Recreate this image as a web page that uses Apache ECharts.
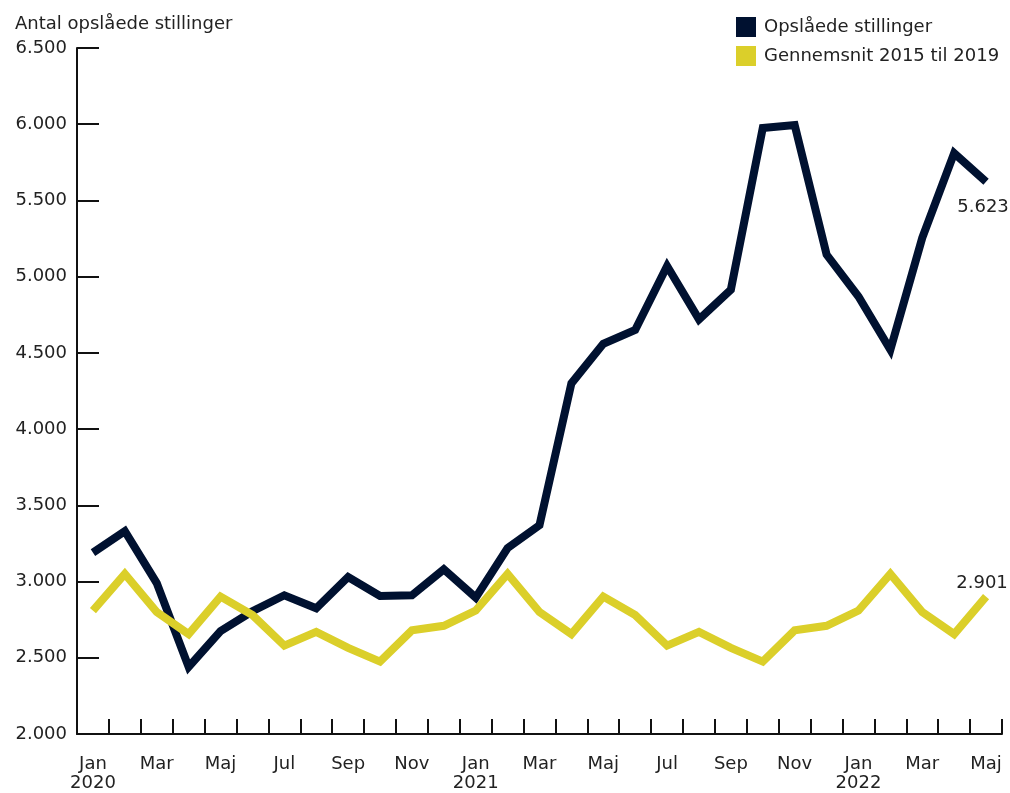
<!DOCTYPE html>
<html><head><meta charset="utf-8">
<script src="https://cdn.jsdelivr.net/npm/echarts@6/dist/echarts.min.js"></script>
<style>html,body{margin:0;padding:0;background:#fff}#c{width:1010px;height:793px}</style>
</head><body><div id="c"></div>
<script>
const months = ['Jan','Feb','Mar','Apr','Maj','Jun','Jul','Aug','Sep','Okt','Nov','Dec',
                'Jan','Feb','Mar','Apr','Maj','Jun','Jul','Aug','Sep','Okt','Nov','Dec',
                'Jan','Feb','Mar','Apr','Maj'];
const years = ['2020','','','','','','','','','','','',
               '2021','','','','','','','','','','','',
               '2022','','','',''];
const opslaaede = [3190,3330,2990,2440,2675,2805,2910,2825,3030,2905,2910,3080,
                   2895,3220,3370,4300,4560,4650,5070,4720,4915,5975,5995,5145,
                   4870,4520,5255,5810,5623];
const gennemsnit = [2810,3050,2800,2655,2901,2780,2580,2670,2565,2475,2680,2710,
                    2810,3050,2800,2655,2901,2780,2580,2670,2565,2475,2680,2710,
                    2810,3050,2800,2655,2901];
const yTicks = {min:2000, max:6500, interval:500};

const categories = months.map((m,i)=> years[i] ? m + '\n' + years[i] : m);
const fmt = v => String(v).replace(/\B(?=(\d{3})+(?!\d))/g, '.');
const FONT = 'DejaVu Sans';
const FS = 18;
const TXT = '#222';
const lastIdx = opslaaede.length - 1;

const chart = echarts.init(document.getElementById('c'));
chart.setOption({
  animation:false,
  textStyle:{fontFamily:FONT},
  title:{text:'Antal opslåede stillinger', left:10, top:10,
    textStyle:{fontFamily:FONT, fontSize:FS, fontWeight:'normal', color:TXT}},
  legend:{orient:'vertical', left:731, top:12, itemWidth:20, itemHeight:20, itemGap:9,
    icon:'rect', textStyle:{fontFamily:FONT, fontSize:FS, color:TXT, padding:[0,0,0,3]},
    data:['Opslåede stillinger','Gennemsnit 2015 til 2019']},
  grid:{left:77, right:8, top:48, bottom:58, containLabel:false},
  xAxis:{type:'category', data:categories, boundaryGap:true,
    axisLine:{lineStyle:{color:'#111', width:2}},
    axisTick:{show:true, inside:true, length:15, interval:0, lineStyle:{color:'#111', width:2}},
    axisLabel:{interval:1, fontFamily:FONT, fontSize:FS, color:TXT, lineHeight:19, margin:21}},
  yAxis:{type:'value', min:yTicks.min, max:yTicks.max, interval:yTicks.interval,
    splitLine:{show:false},
    axisLine:{show:true, lineStyle:{color:'#111', width:2}},
    axisTick:{show:true, inside:true, length:22, lineStyle:{color:'#111', width:2}},
    axisLabel:{fontFamily:FONT, fontSize:FS, color:TXT, margin:10, formatter:fmt}},
  series:[
    {name:'Opslåede stillinger', type:'line', data:opslaaede, showSymbol:false, symbol:'none',
     color:'#001130', lineStyle:{width:8, color:'#001130', join:'miter', cap:'butt'},
     markPoint:{symbol:'circle', symbolSize:0,
       data:[{coord:[lastIdx, opslaaede[lastIdx]], value:opslaaede[lastIdx]}],
       label:{show:true, position:'bottom', distance:17, formatter:p=>fmt(p.value),
         fontFamily:FONT, fontSize:FS, color:TXT, offset:[-3,0]}}},
    {name:'Gennemsnit 2015 til 2019', type:'line', data:gennemsnit, showSymbol:false, symbol:'none',
     color:'#dbcf2a', lineStyle:{width:8, color:'#dbcf2a', join:'miter', cap:'butt'},
     markPoint:{symbol:'circle', symbolSize:0,
       data:[{coord:[lastIdx, gennemsnit[lastIdx]], value:gennemsnit[lastIdx]}],
       label:{show:true, position:'top', distance:4, formatter:p=>fmt(p.value),
         fontFamily:FONT, fontSize:FS, color:TXT, offset:[-4,0]}}}
  ]
});
</script></body></html>
